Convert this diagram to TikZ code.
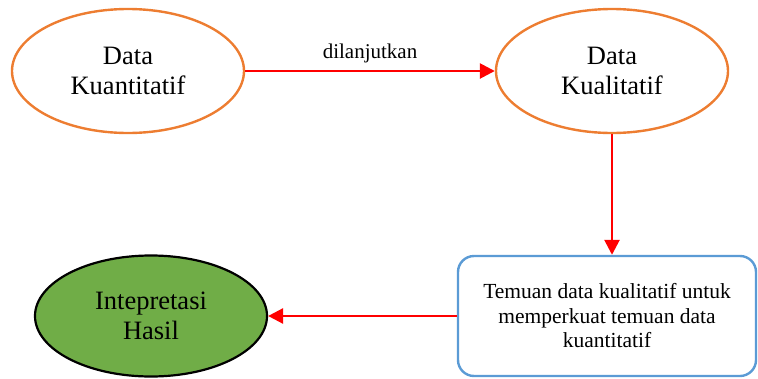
\documentclass[tikz,border=0pt]{standalone}
\usepackage{fontspec}
\setmainfont{Liberation Serif}
\usetikzlibrary{positioning,arrows.meta,shapes.geometric}

\definecolor{oranye}{HTML}{ED7D31}
\definecolor{hijau}{HTML}{70AD47}
\definecolor{biru}{HTML}{5B9BD5}
\definecolor{merah}{HTML}{FF0000}

\begin{document}
\begin{tikzpicture}[x=1pt,y=1pt,
  elips/.style={ellipse,draw=oranye,line width=2.4pt,minimum width=232pt,minimum height=124pt,inner sep=0pt,align=center,font=\fontsize{26.5}{30}\selectfont},
  hasilnya/.style={ellipse,draw=black,fill=hijau,line width=2.2pt,minimum width=232pt,minimum height=121pt,inner sep=0pt,align=center,font=\fontsize{26.5}{30}\selectfont},
  kotak/.style={rectangle,rounded corners=16pt,draw=biru,line width=2.4pt,minimum width=298pt,minimum height=120pt,align=center,font=\fontsize{21.5}{24.5}\selectfont},
  panah/.style={draw=merah,line width=2.6pt,-{Triangle[length=15pt,width=15pt]}}]
\useasboundingbox (0,0) rectangle (758,-378);

\node[elips] (kuan) at (128,-71) {Data\\Kuantitatif};
\node[elips] (kual) at (612,-71) {Data\\Kualitatif};
\node[kotak] (temuan) at (607,-316) {Temuan data kualitatif untuk\\memperkuat temuan data\\kuantitatif};
\node[hasilnya] (hasil) at (151,-316) {Intepretasi\\Hasil};

\draw[panah] (kuan.east) -- (kual.west) node[midway,above=3pt,font=\fontsize{21}{24}\selectfont] (lanjut) {dilanjutkan};
\draw[panah] (kual.south) -- (kual.south |- temuan.north);
\draw[panah] (temuan.west) -- (hasil.east);
\end{tikzpicture}
\end{document}
